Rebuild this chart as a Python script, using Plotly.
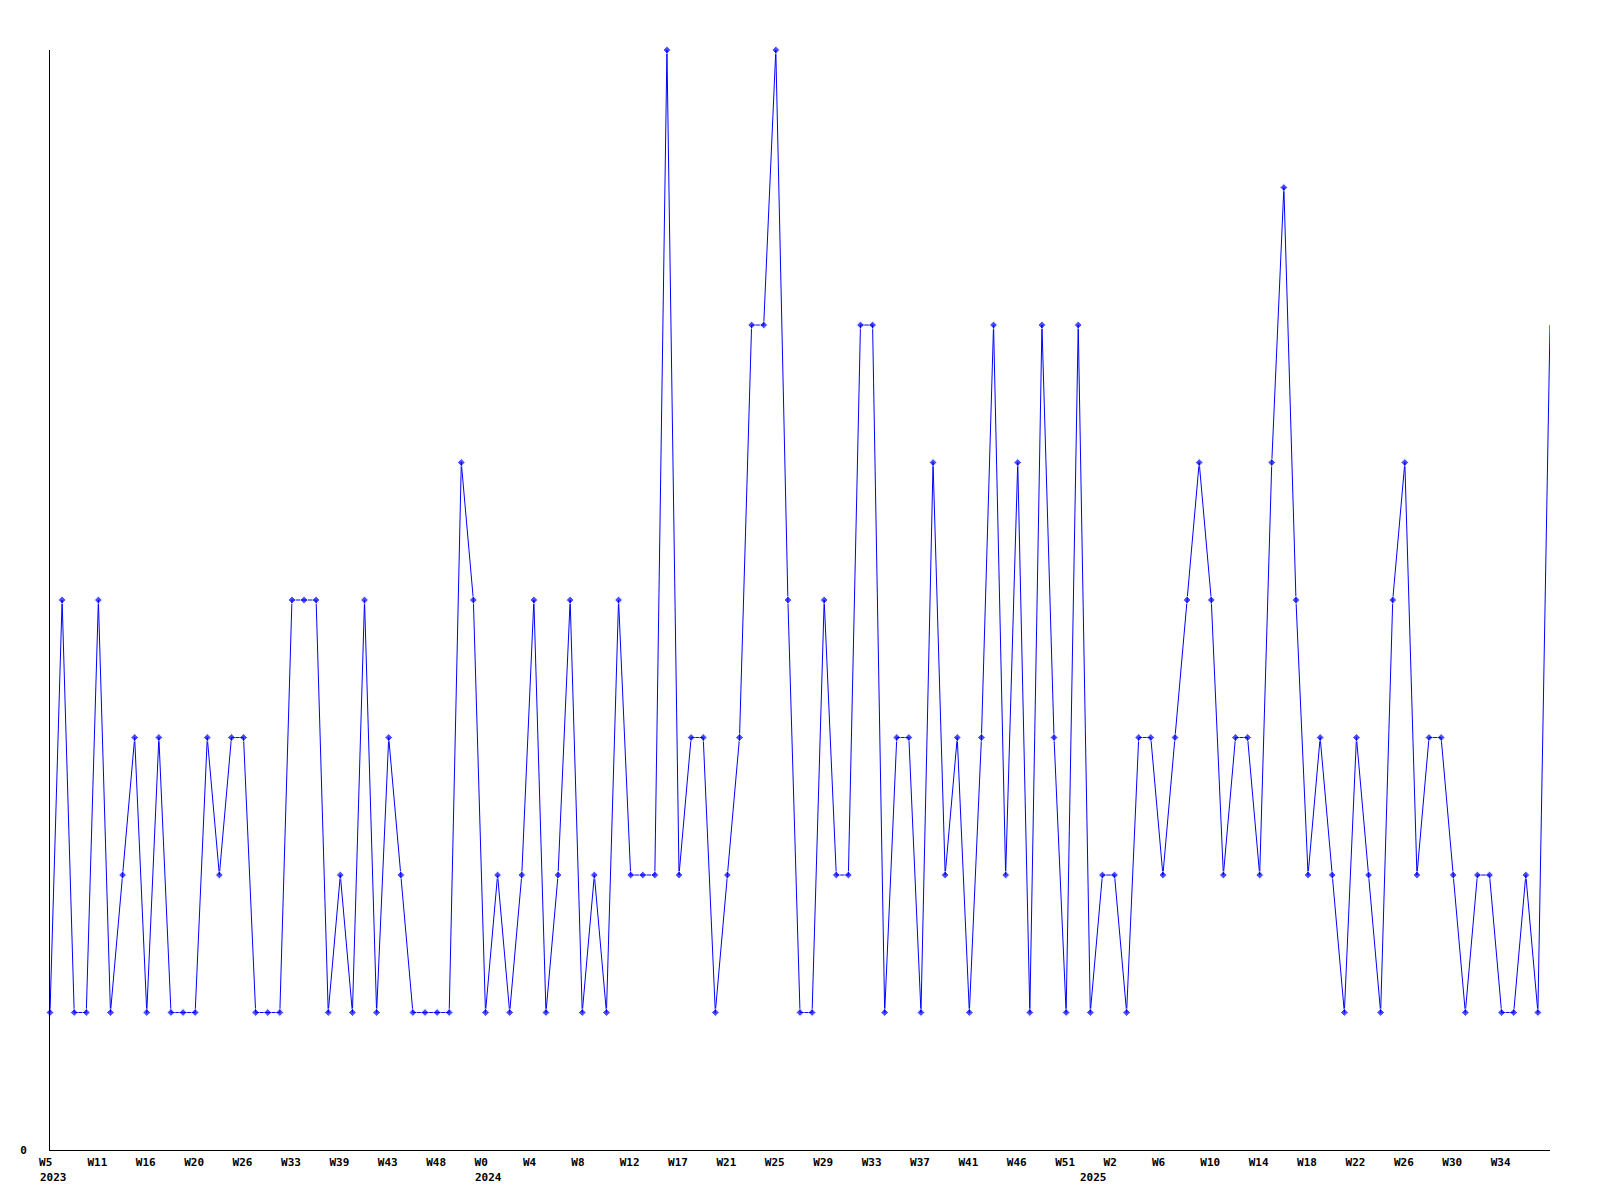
import plotly.graph_objects as go

values = [1, 4, 1, 1, 4, 1, 2, 3, 1, 3,
          1, 1, 1, 3, 2, 3, 3, 1, 1, 1,
          4, 4, 4, 1, 2, 1, 4, 1, 3, 2,
          1, 1, 1, 1, 5, 4, 1, 2, 1, 2,
          4, 1, 2, 4, 1, 2, 1, 4, 2, 2,
          2, 8, 2, 3, 3, 1, 2, 3, 6, 6,
          8, 4, 1, 1, 4, 2, 2, 6, 6, 1,
          3, 3, 1, 5, 2, 3, 1, 3, 6, 2,
          5, 1, 6, 3, 1, 6, 1, 2, 2, 1,
          3, 3, 2, 3, 4, 5, 4, 2, 3, 3,
          2, 5, 7, 4, 2, 3, 2, 1, 3, 2,
          1, 4, 5, 2, 3, 3, 2, 1, 2, 2,
          1, 1, 2, 1, 6]

tick_labels = ["W5", "W11", "W16", "W20", "W26", "W33", "W39", "W43", "W48",
               "W0", "W4", "W8", "W12", "W17", "W21", "W25", "W29", "W33",
               "W37", "W41", "W46", "W51", "W2", "W6", "W10", "W14", "W18",
               "W22", "W26", "W30", "W34"]
tick_step = 4

years = ["2023", "2024", "2025"]
year_start_index = [0, 36, 86]

x = list(range(len(values)))
tickvals = [i * tick_step for i in range(len(tick_labels))]
ticktext = [t + "\u00a0" * (3 - len(t)) for t in tick_labels]

marker_sizes = [6] * (len(values) - 1) + [0]

FONT = "DejaVu Sans Mono"

fig = go.Figure()
fig.add_trace(go.Scatter(
    x=x, y=values, mode="lines+markers",
    line=dict(color="#0000FF", width=1),
    marker=dict(symbol="diamond", size=marker_sizes, color="#0000FF"),
    cliponaxis=False, showlegend=False, hoverinfo="x+y",
))

for yr, idx in zip(years, year_start_index):
    fig.add_annotation(
        x=idx, y=0, xref="x", yref="paper", text="<b>" + yr + "</b>",
        showarrow=False, xanchor="left", yanchor="top",
        xshift=-12, yshift=-19,
        font=dict(family=FONT, size=11, color="black"),
    )

fig.update_layout(
    width=1600, height=1200,
    margin=dict(l=42, r=58, t=42, b=58, autoexpand=False),
    paper_bgcolor="white", plot_bgcolor="white",
    font=dict(family=FONT, size=11, color="black"),
)
fig.update_xaxes(
    range=[0, len(values) - 1], showgrid=False, zeroline=False,
    showline=True, linecolor="black", linewidth=1, automargin=False,
    tickvals=tickvals, ticktext=["<b>" + t + "</b>" for t in ticktext],
    ticks="", ticklabelstandoff=2, ticklabelshift=-1,
    tickfont=dict(family=FONT, size=11, color="black"),
)
fig.update_yaxes(
    range=[0, 8], showgrid=False, zeroline=False,
    showline=True, linecolor="black", linewidth=1, automargin=False,
    tickvals=[0], ticktext=["<b>0</b>"], ticks="",
    ticklabelstandoff=20,
    tickfont=dict(family=FONT, size=11, color="black"),
)

fig.write_html("out.html")
